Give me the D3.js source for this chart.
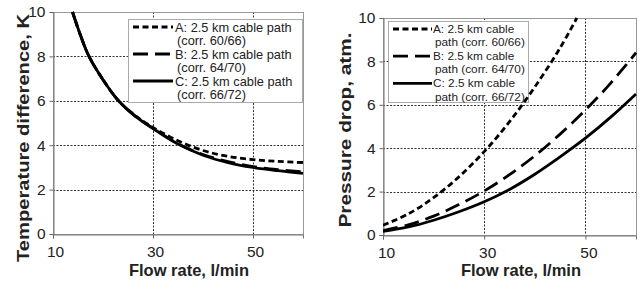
<!doctype html>
<html>
<head>
<meta charset="utf-8">
<title>Flow rate charts</title>
<style>
  body { margin: 0; background: #fff; }
  svg { display: block; font-family: Arial, "Liberation Sans", sans-serif; }
</style>
<script src="https://cdn.jsdelivr.net/npm/d3@7"></script>
</head>
<body>
<div id="chart-area"></div>
<script type="text/javascript">
  // --- data ---
  var seriesNames = ['A', 'B', 'C'];
  var xTicks = [10, 30, 50];
  var yTicks = [0, 2, 4, 6, 8, 10];

  // left panel: temperature difference, K
  var tempFlow = [13.9, 15.5, 17.2, 20, 23.1, 26.5, 30, 35, 40, 45, 50, 55, 60];
  var tempA = [10, 8.95, 8.0, 6.95, 6.0, 5.33, 4.8, 4.2, 3.76, 3.5, 3.35, 3.27, 3.22];
  var tempB = [10, 8.95, 8.0, 6.95, 6.0, 5.3, 4.76, 4.07, 3.58, 3.26, 3.04, 2.9, 2.8];
  var tempC = [10, 8.95, 8.0, 6.95, 6.0, 5.3, 4.75, 4.05, 3.55, 3.22, 3.0, 2.85, 2.73];
  var tempLegend = [
    ['A: 2.5 km cable path', '(corr. 60/66)'],
    ['B: 2.5 km cable path', '(corr. 64/70)'],
    ['C: 2.5 km cable path', '(corr. 66/72)']
  ];

  // right panel: pressure drop, atm.
  var presFlowA = [10, 15, 20, 25, 30, 35, 40, 45, 48.3];
  var presA = [0.45, 0.97, 1.72, 2.68, 3.84, 5.22, 6.82, 8.62, 10];
  var presFlow = [10, 15, 20, 25, 30, 35, 40, 45, 50, 55, 60];
  var presB = [0.2, 0.47, 0.87, 1.4, 2.03, 2.78, 3.65, 4.65, 5.76, 7.0, 8.4];
  var presC = [0.17, 0.37, 0.68, 1.07, 1.53, 2.1, 2.8, 3.6, 4.46, 5.43, 6.5];
  var presLegend = [
    ['A: 2.5 km cable', 'path (corr. 60/66)'],
    ['B: 2.5 km cable', 'path (corr. 64/70)'],
    ['C: 2.5 km cable', 'path (corr. 66/72)']
  ];

  var dashes = {A: '6,3.5', B: '15,7', C: null};

  var svg = d3.select('#chart-area')
      .append('svg')
      .attr('width', 639)
      .attr('height', 281);

  function zip(xs, ys) {
    return xs.map(function(v, i) { return {q: v, v: ys[i]}; });
  }

  function crisp(v) {
    return Math.round(v) + 0.5;
  }

  function drawPanel(p) {
    var x = d3.scaleLinear().domain([10, 60]).range([p.x0, p.x1]);
    var y = d3.scaleLinear().domain([0, 10]).range([p.y1, p.y0]);
    var g = svg.append('g');

    // grid
    g.selectAll('line.hgrid')
        .data([2, 4, 6, 8])
        .enter().append('line')
        .attr('class', 'hgrid')
        .attr('x1', p.x0).attr('x2', p.x1)
        .attr('y1', function(d) { return crisp(y(d)); })
        .attr('y2', function(d) { return crisp(y(d)); })
        .attr('stroke', '#333')
        .attr('stroke-width', 1)
        .attr('stroke-dasharray', '2,1.5');
    g.selectAll('line.vgrid')
        .data([30, 50])
        .enter().append('line')
        .attr('class', 'vgrid')
        .attr('y1', p.y0).attr('y2', p.y1)
        .attr('x1', function(d) { return crisp(x(d)); })
        .attr('x2', function(d) { return crisp(x(d)); })
        .attr('stroke', '#333')
        .attr('stroke-width', 1)
        .attr('stroke-dasharray', '2,1.5');

    // frame
    g.append('rect')
        .attr('x', p.x0 + 0.5).attr('y', p.y0 + 0.5)
        .attr('width', p.x1 - p.x0).attr('height', p.y1 - p.y0)
        .attr('fill', 'none')
        .attr('stroke', '#999');

    // axes
    var yAxis = g.append('g')
        .attr('transform', 'translate(' + (p.x0 + 0.5) + ',0)')
        .call(d3.axisLeft(y).tickValues(yTicks).tickSize(4).tickPadding(4));
    var xAxis = g.append('g')
        .attr('transform', 'translate(0,' + (p.y1 + 0.5) + ')')
        .call(d3.axisBottom(x).tickValues(xTicks).tickSize(4).tickPadding(7));
    [xAxis, yAxis].forEach(function(a) {
      a.select('.domain').attr('stroke', '#777');
      a.selectAll('.tick line').attr('stroke', '#666');
      a.selectAll('text')
          .attr('font-size', '15.5px')
          .attr('font-family', 'Arial, "Liberation Sans", sans-serif')
          .attr('fill', '#222');
    });
    xAxis.selectAll('.tick text').attr('dx', p.xTickDx);

    // legend box
    var lg = g.append('g');
    lg.append('rect')
        .attr('x', p.legX + 0.5).attr('y', p.legY + 0.5)
        .attr('width', p.legW).attr('height', p.legH)
        .attr('fill', '#fff')
        .attr('stroke', '#aaa');
    p.legend.forEach(function(rows, i) {
      var name = seriesNames[i];
      var ly = p.legY + p.sampleY0 + i * p.rowStep * 2;
      lg.append('line')
          .attr('x1', p.legX + 5).attr('x2', p.legX + p.sampleW)
          .attr('y1', ly).attr('y2', ly)
          .attr('stroke', '#000')
          .attr('stroke-width', 2.8)
          .attr('stroke-dasharray', dashes[name]);
      rows.forEach(function(t, j) {
        lg.append('text')
            .attr('x', p.legX + p.textX + (j ? p.textX2 : 0))
            .attr('y', p.legY + p.baseY0 + (i * 2 + j) * p.rowStep)
            .attr('font-size', p.legFont)
            .attr('fill', '#222')
            .text(t);
      });
    });

    // curves
    var clipId = 'clip' + p.id;
    svg.append('clipPath').attr('id', clipId)
        .append('rect')
        .attr('x', p.x0).attr('y', p.y0 - 2)
        .attr('width', p.x1 - p.x0 + 1).attr('height', p.y1 - p.y0 + 2);
    var line = d3.line()
        .x(function(d) { return x(d.q); })
        .y(function(d) { return y(d.v); })
        .curve(d3.curveCatmullRom.alpha(0.5));
    p.series.forEach(function(s, i) {
      g.append('path')
          .datum(s)
          .attr('clip-path', 'url(#' + clipId + ')')
          .attr('d', line)
          .attr('fill', 'none')
          .attr('stroke', '#000')
          .attr('stroke-width', 2.8)
          .attr('stroke-dasharray', dashes[seriesNames[i]]);
    });

    // titles
    g.append('text')
        .attr('x', p.xTitleX).attr('y', 276)
        .attr('text-anchor', 'middle')
        .attr('font-size', '16.5px')
        .attr('font-weight', 'bold')
        .attr('fill', '#222')
        .text('Flow rate, l/min');
    g.append('text')
        .attr('transform', 'translate(' + p.yTitleX + ',' + p.yTitleY + ') rotate(-90)')
        .attr('text-anchor', 'middle')
        .attr('font-size', '17px')
        .attr('font-weight', 'bold')
        .attr('fill', '#222')
        .attr('textLength', p.yTitleLen)
        .attr('lengthAdjust', 'spacingAndGlyphs')
        .text(p.yTitle);
  }

  drawPanel({
    id: 'L', x0: 53, x1: 303, y0: 12, y1: 234, xTickDx: 2,
    series: [zip(tempFlow, tempA), zip(tempFlow, tempB), zip(tempFlow, tempC)],
    legend: tempLegend,
    legX: 128, legY: 19, legW: 174, legH: 83,
    sampleY0: 8, sampleW: 45, textX: 47, textX2: 2, baseY0: 12.5, rowStep: 13.5, legFont: '12.8px',
    xTitleX: 189, yTitle: 'Temperature difference, K', yTitleX: 29, yTitleY: 138, yTitleLen: 248
  });

  drawPanel({
    id: 'R', x0: 383, x1: 636, y0: 18, y1: 235, xTickDx: 3,
    series: [zip(presFlowA, presA), zip(presFlow, presB), zip(presFlow, presC)],
    legend: presLegend,
    legX: 388, legY: 21, legW: 140, legH: 81,
    sampleY0: 8, sampleW: 44, textX: 45, textX2: 2, baseY0: 11.5, rowStep: 13.6, legFont: '11.8px',
    xTitleX: 521, yTitle: 'Pressure drop, atm.', yTitleX: 351, yTitleY: 130, yTitleLen: 195
  });
</script>
</body>
</html>
